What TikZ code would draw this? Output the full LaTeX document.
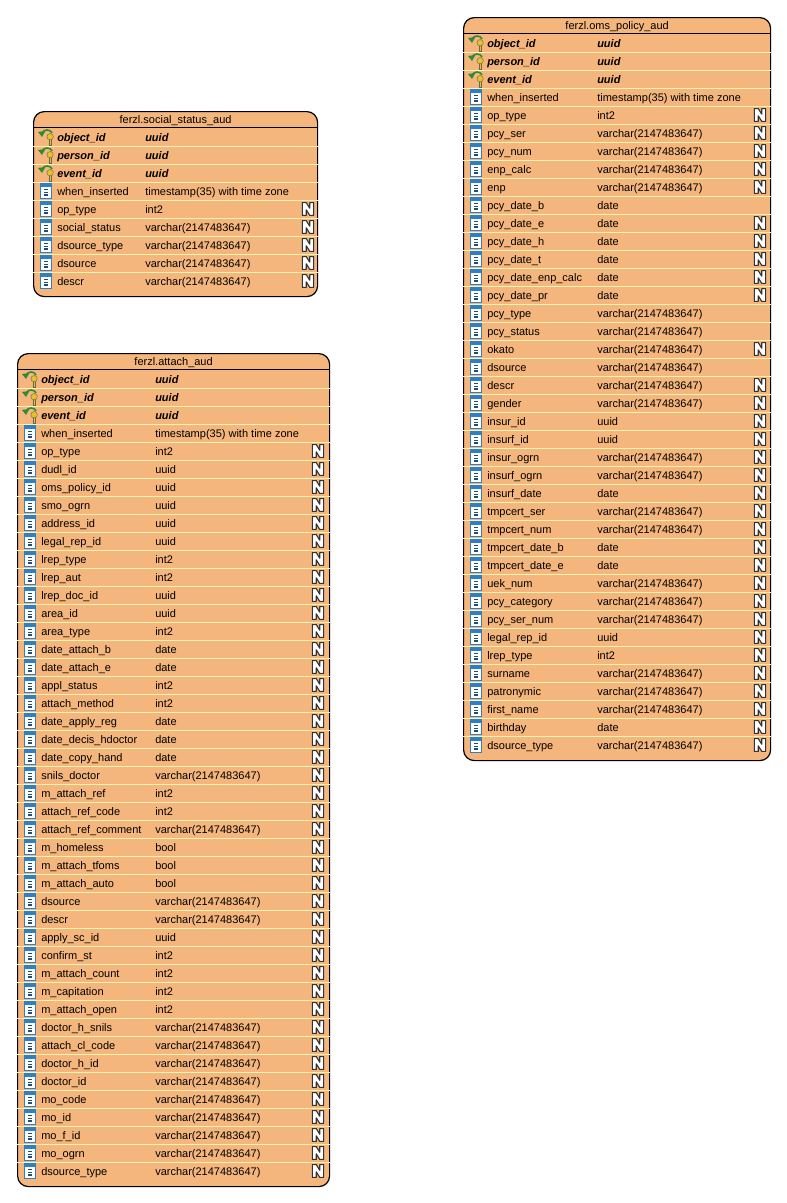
\documentclass[tikz,border=0pt]{standalone}
\usepackage{fontspec}
\setmainfont{Liberation Sans}
\usepackage{xcolor}
\definecolor{cFill}{HTML}{F4B67C}
\definecolor{cSep}{HTML}{FFF4B0}
\definecolor{cIcon}{HTML}{2F7FC8}
\definecolor{cKey}{HTML}{E8C020}
\definecolor{cArrow}{HTML}{2E8B3A}
\definecolor{cOut}{HTML}{333333}
\usepackage{tikz}
\usetikzlibrary{calc}
\newcommand{\vcx}{varchar(2147483647)}
\newcommand{\tsz}{timestamp(35) with time zone}
\tikzset{
  node-table/.style={draw=black,line width=0.9pt,rounded corners=8pt,fill=cFill,
    minimum height=#1,inner sep=0pt,anchor=north west},
  node-row/.style={minimum height=13.5pt,inner sep=0pt,anchor=north west},
  node-title/.style={inner sep=0pt,font=\fontsize{8.25}{10}\selectfont},
  node-text/.style={inner sep=0pt,anchor=base west},
  font-k/.style={font=\fontsize{8.25}{10}\selectfont\bfseries\itshape},
  font-c/.style={font=\fontsize{8.25}{10}\selectfont},
  font-n/.style={font=\fontsize{8.25}{10}\selectfont},
  row-sep/.style={draw=cSep,line width=0.75pt},
  head-sep/.style={draw=black,line width=0.75pt},
  pics/icon-c/.style={code={
    \fill[white] (-4pt,-5.8pt) rectangle (4pt,5.8pt);
    \draw[cIcon,line width=0.7pt] (-4pt,-5.8pt) rectangle (4pt,5.8pt);
    \fill[cIcon] (-4pt,5.8pt) rectangle (4pt,3pt);
    \foreach \dy in {-3.6,-1.6,0.4}
      \fill[cIcon!60!black] (-1.4pt,\dy pt) rectangle (1.4pt,\dy pt+1pt);
  }},
  pics/icon-n/.style={code={\pic {icon-c};}},
  pics/icon-k/.style={code={
    \fill[cKey,draw=black!60,line width=0.3pt] (2.4pt,-2pt) rectangle (3.8pt,-6pt);
    \fill[cKey] (1.2pt,-4.2pt) rectangle (2.4pt,-5pt);
    \fill[cKey] (1.2pt,-5.4pt) rectangle (2.4pt,-6pt);
    \fill[cKey,draw=black!60,line width=0.3pt] (3.1pt,0.2pt) circle (2.4pt);
    \fill[cFill] (3.1pt,0.5pt) circle (0.7pt);
    \draw[cArrow,line width=1.2pt] (4.6pt,3pt) .. controls (3pt,6pt) and (-1.5pt,6pt) .. (-3pt,3pt);
    \fill[cArrow] (-6pt,3.8pt) -- (-0.5pt,4.4pt) -- (-3pt,0pt) -- cycle;
  }},
  pics/mark-c/.style={code={}},
  pics/mark-k/.style={code={}},
  pics/mark-n/.style={code={
    \draw[cOut,line width=0.85pt,fill=white,line join=round]
      (-4.2pt,-4.8pt) -- (-4.2pt,4.8pt) -- (-1.3pt,4.8pt) -- (1.3pt,0.6pt) -- (1.3pt,4.8pt) -- (4.2pt,4.8pt)
      -- (4.2pt,-4.8pt) -- (1.3pt,-4.8pt) -- (-1.3pt,-0.6pt) -- (-1.3pt,-4.8pt) -- cycle;
  }},
}
% name, left, top, width, height, type offset, title, N offset, rows
\newcommand{\dbtable}[9]{
  \node[node-table=#5*0.75pt,minimum width=#4*0.75pt] (#1) at (#2,#3) {};
  \node[node-title] (#1-title) at ($(#1.north)+(0,-7pt)$) {#7};
  \coordinate (#1-hl) at (#2,#3+16);
  \coordinate (#1-hr) at (#2+#4,#3+16);
  \draw[head-sep] (#1-hl) -- (#1-hr);
  \foreach \nm/\ty/\fl [count=\i from 0] in {#9} {
    \node[node-row,minimum width=#4*0.75pt] (#1-r\i) at (#2,#3+17+18*\i) {};
    \ifnum\i>0 \draw[row-sep] (#1-r\i.north west) -- (#1-r\i.north east); \fi
    \pic at (#2+13,#3+26+18*\i) {icon-\fl};
    \pic at (#2+#8,#3+26+18*\i) {mark-\fl};
    \node[node-text,font-\fl] (#1-n\i) at (#2+24,#3+30+18*\i) {\nm};
    \node[node-text,font-\fl] (#1-t\i) at (#2+#6,#3+30+18*\i) {\ty};
  }
}
\begin{document}
\begin{tikzpicture}[x=0.75pt,y=-0.75pt]
  \useasboundingbox (0,0) rectangle (787,1203);
  \dbtable{social}{33}{111}{284}{185}{112}{ferzl.social\_status\_aud}{275}{
    object\_id/uuid/k,person\_id/uuid/k,event\_id/uuid/k,when\_inserted/\tsz/c,
    op\_type/int2/n,social\_status/\vcx/n,dsource\_type/\vcx/n,dsource/\vcx/n,descr/\vcx/n}
  \dbtable{attach}{17}{353}{312}{833}{138}{ferzl.attach\_aud}{301}{
    object\_id/uuid/k,person\_id/uuid/k,event\_id/uuid/k,when\_inserted/\tsz/c,
    op\_type/int2/n,dudl\_id/uuid/n,oms\_policy\_id/uuid/n,smo\_ogrn/uuid/n,
    address\_id/uuid/n,legal\_rep\_id/uuid/n,lrep\_type/int2/n,lrep\_aut/int2/n,
    lrep\_doc\_id/uuid/n,area\_id/uuid/n,area\_type/int2/n,date\_attach\_b/date/n,
    date\_attach\_e/date/n,appl\_status/int2/n,attach\_method/int2/n,
    date\_apply\_reg/date/n,date\_decis\_hdoctor/date/n,date\_copy\_hand/date/n,
    snils\_doctor/\vcx/n,m\_attach\_ref/int2/n,attach\_ref\_code/int2/n,
    attach\_ref\_comment/\vcx/n,m\_homeless/bool/n,m\_attach\_tfoms/bool/n,
    m\_attach\_auto/bool/n,dsource/\vcx/n,descr/\vcx/n,apply\_sc\_id/uuid/n,
    confirm\_st/int2/n,m\_attach\_count/int2/n,m\_capitation/int2/n,
    m\_attach\_open/int2/n,doctor\_h\_snils/\vcx/n,attach\_cl\_code/\vcx/n,
    doctor\_h\_id/\vcx/n,doctor\_id/\vcx/n,mo\_code/\vcx/n,mo\_id/\vcx/n,
    mo\_f\_id/\vcx/n,mo\_ogrn/\vcx/n,dsource\_type/\vcx/n}
  \dbtable{oms}{463}{17}{307}{743}{134}{ferzl.oms\_policy\_aud}{297}{
    object\_id/uuid/k,person\_id/uuid/k,event\_id/uuid/k,when\_inserted/\tsz/c,
    op\_type/int2/n,pcy\_ser/\vcx/n,pcy\_num/\vcx/n,enp\_calc/\vcx/n,enp/\vcx/n,
    pcy\_date\_b/date/c,pcy\_date\_e/date/n,pcy\_date\_h/date/n,pcy\_date\_t/date/n,
    pcy\_date\_enp\_calc/date/n,pcy\_date\_pr/date/n,pcy\_type/\vcx/c,
    pcy\_status/\vcx/c,okato/\vcx/n,dsource/\vcx/c,descr/\vcx/n,gender/\vcx/n,
    insur\_id/uuid/n,insurf\_id/uuid/n,insur\_ogrn/\vcx/n,insurf\_ogrn/\vcx/n,
    insurf\_date/date/n,tmpcert\_ser/\vcx/n,tmpcert\_num/\vcx/n,
    tmpcert\_date\_b/date/n,tmpcert\_date\_e/date/n,uek\_num/\vcx/n,
    pcy\_category/\vcx/n,pcy\_ser\_num/\vcx/n,legal\_rep\_id/uuid/n,lrep\_type/int2/n,
    surname/\vcx/n,patronymic/\vcx/n,first\_name/\vcx/n,birthday/date/n,
    dsource\_type/\vcx/n}
\end{tikzpicture}
\end{document}
